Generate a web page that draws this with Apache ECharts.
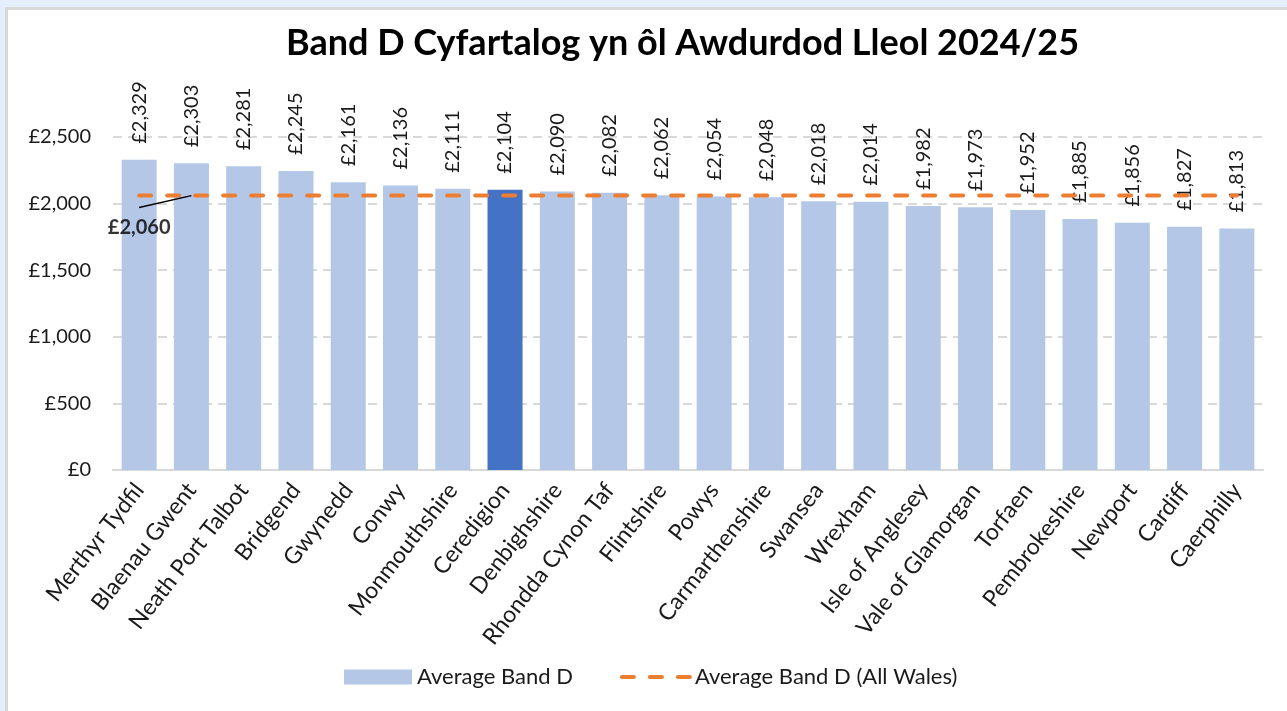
<!DOCTYPE html>
<html>
<head>
<meta charset="utf-8">
<script src="https://cdn.jsdelivr.net/npm/echarts@6/dist/echarts.min.js"></script>
<style>
html,body{margin:0;padding:0;background:#e5effb;width:1287px;height:711px;overflow:hidden;}
#edge{position:absolute;left:5px;top:7px;width:1282px;height:704px;background:#d9d9d9;}
#chart{position:absolute;left:8px;top:10px;width:1279px;height:701px;background:#ffffff;}
</style>
</head>
<body>
<div id="edge"></div>
<div id="chart"></div>
<script>
const categories = ["Merthyr Tydfil","Blaenau Gwent","Neath Port Talbot","Bridgend","Gwynedd","Conwy","Monmouthshire","Ceredigion","Denbighshire","Rhondda Cynon Taf","Flintshire","Powys","Carmarthenshire","Swansea","Wrexham","Isle of Anglesey","Vale of Glamorgan","Torfaen","Pembrokeshire","Newport","Cardiff","Caerphilly"];
const bandD = [2329,2303,2281,2245,2161,2136,2111,2104,2090,2082,2062,2054,2048,2018,2014,1982,1973,1952,1885,1856,1827,1813];
const walesAverage = 2060;
const highlightCategory = "Ceredigion";
const yTicks = [0,500,1000,1500,2000,2500];
// callout for the All-Wales value: leader runs from the label (cat 0) to the line (cat 1)
const calloutCategories = ["Merthyr Tydfil","Blaenau Gwent"];
const calloutValues = [1970, 2060];

const FONT = 'Lato, "Open Sans", sans-serif';
const fmt = v => '£' + Number(v).toLocaleString('en-GB');

const chart = echarts.init(document.getElementById('chart'), null, {renderer:'canvas'});
const option = {
  backgroundColor: '#ffffff',
  animation: false,
  textStyle: {fontFamily: FONT},
  title: {
    text: 'Band D Cyfartalog yn ôl Awdurdod Lleol 2024/25',
    left: 273,
    top: 10,
    textStyle: {fontFamily: FONT, fontSize: 36, fontWeight: 'bold', color: '#000'}
  },
  legend: {
    left: 331,
    top: 651,
    itemWidth: 68,
    itemHeight: 15,
    itemGap: 47,
    textStyle: {fontFamily: FONT, fontSize: 22, color: '#1a1a1a'},
    data: [
      {name: 'Average Band D', icon: 'rect'},
      {name: 'Average Band D (All Wales)', lineStyle: {width: 4, color: '#ed7d31', type: [12,16], cap: 'round'}}
    ]
  },
  grid: {left: 105, right: 24, top: 127, bottom: 241, containLabel: false},
  xAxis: {
    type: 'category',
    data: categories,
    axisLine: {lineStyle: {color: '#d9d9d9', width: 2}},
    axisTick: {show: false},
    axisLabel: {rotate: 52, interval: 0, fontSize: 23, color: '#1a1a1a', fontFamily: FONT, margin: 16}
  },
  yAxis: {
    type: 'value',
    min: yTicks[0],
    max: yTicks[yTicks.length-1],
    interval: yTicks[1]-yTicks[0],
    axisLine: {show: false},
    axisTick: {show: false},
    splitLine: {lineStyle: {color: '#d9d9d9', width: 2, type: [9,6]}},
    axisLabel: {formatter: fmt, fontSize: 20, color: '#1a1a1a', fontFamily: FONT, margin: 22}
  },
  series: [
    {
      name: 'Average Band D',
      type: 'bar',
      barCategoryGap: '33%',
      itemStyle: {color: '#b4c7e7'},
      data: bandD.map((v,i) => categories[i] === highlightCategory ? {value: v, itemStyle: {color: '#4472c4'}} : v),
      label: {
        show: true,
        position: 'top',
        distance: 16,
        rotate: 90,
        align: 'left',
        verticalAlign: 'middle',
        formatter: p => fmt(p.value),
        fontSize: 20,
        color: '#1a1a1a',
        fontFamily: FONT
      },
      z: 2
    },
    {
      name: 'Average Band D (All Wales)',
      type: 'line',
      symbol: 'none',
      lineStyle: {color: '#ed7d31', width: 4, type: [12,16], cap: 'round'},
      itemStyle: {color: 'rgba(0,0,0,0)'},
      data: categories.map(() => walesAverage),
      z: 3
    },
    {
      name: 'calloutLeader',
      type: 'line',
      symbol: 'none',
      silent: true,
      lineStyle: {color: '#000', width: 1.5},
      data: calloutCategories.map((c,i) => [c, calloutValues[i]]),
      z: 4
    },
    {
      name: 'calloutLabel',
      type: 'scatter',
      symbolSize: 1,
      itemStyle: {color: 'rgba(0,0,0,0)'},
      silent: true,
      data: [[calloutCategories[0], calloutValues[0]]],
      label: {
        show: true,
        position: 'bottom',
        distance: 9,
        formatter: () => fmt(walesAverage),
        fontSize: 20,
        fontWeight: 'bold',
        color: '#000',
        fontFamily: FONT
      },
      z: 4
    }
  ]
};
chart.setOption(option);
</script>
</body>
</html>
